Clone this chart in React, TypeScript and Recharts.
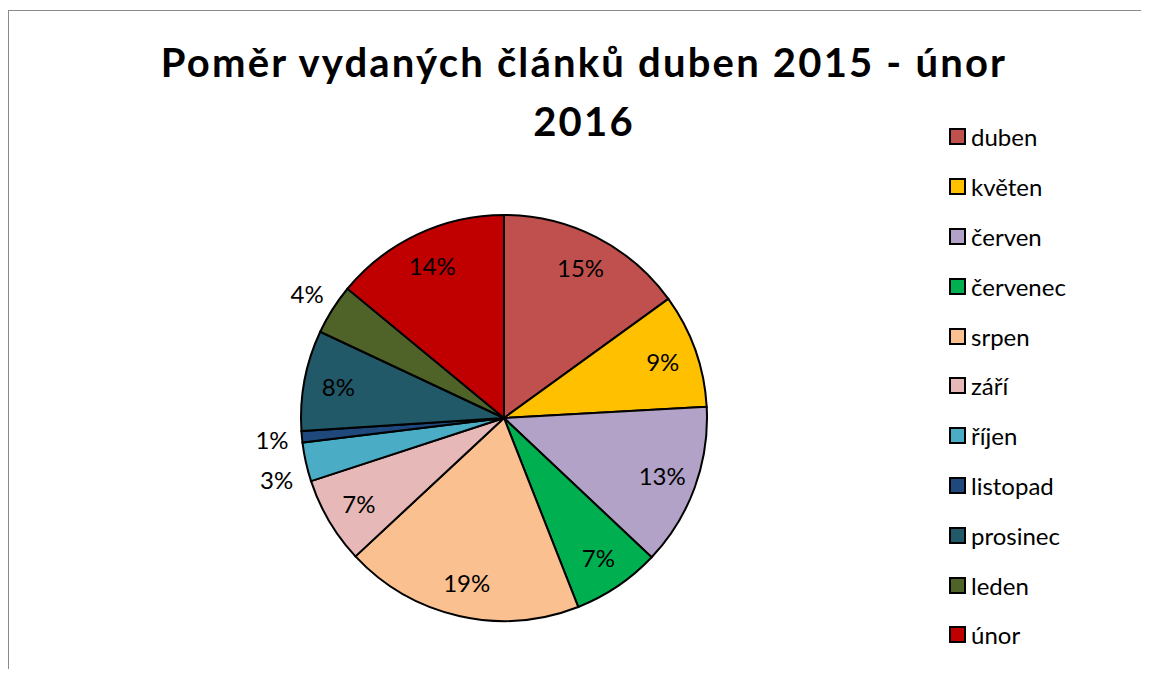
import React from 'react';
import { PieChart, Pie, Cell, Legend } from 'recharts';

const months = ['duben', 'květen', 'červen', 'červenec', 'srpen', 'září', 'říjen', 'listopad', 'prosinec', 'leden', 'únor'];
const shares = [15.0, 9.1, 12.9, 7.0, 19.0, 6.9, 3.1, 0.9, 8.0, 4.0, 14.0];
const colors = ['#C0504D', '#FFC000', '#B2A2C7', '#00B050', '#FAC090', '#E6B9B8', '#4BACC6', '#1F497D', '#215968', '#4F6228', '#C00000'];
const titleLines = ['Poměr vydaných článků duben 2015 - únor', '2016'];

const data = months.map((m, i) => ({ name: m, value: shares[i] }));

const FONT = 'Lato, "Noto Sans", sans-serif';
const RAD = Math.PI / 180;

const labelPositions = (cx: number, cy: number, R: number) => {
  const total = shares.reduce((a, b) => a + b, 0);
  let acc = 0;
  const pos = shares.map((v) => {
    const frac = v / total;
    const mid = 90 - (acc + frac / 2) * 360;
    acc += frac;
    const outside = frac < 0.05;
    const r = outside ? R + 30 : R * 0.83;
    return { x: cx + r * Math.cos(mid * RAD), y: cy - r * Math.sin(mid * RAD), outside, frac };
  });
  for (let i = 0; i < pos.length - 1; i++) {
    const a = pos[i];
    const b = pos[i + 1];
    if (a.outside && b.outside && Math.abs(a.y - b.y) < 40) {
      if (a.y > b.y) a.y = b.y + 40; else b.y = a.y + 40;
    }
  }
  return pos;
};

const renderLabel = (p: any) => {
  const { cx, cy, outerRadius, index, percent } = p;
  const pos = labelPositions(cx, cy, outerRadius)[index];
  return (
    <text x={pos.x} y={pos.y} textAnchor="middle" dominantBaseline="central" fontSize={24} fontFamily={FONT} fill="#000">
      {Math.round(percent * 100)}%
    </text>
  );
};

const renderLegend = () => (
  <div style={{ fontFamily: FONT, fontSize: 24, color: '#000' }}>
    {months.map((m, i) => (
      <div key={m} style={{ height: 49.8, display: 'flex', alignItems: 'center' }}>
        <span style={{ display: 'inline-block', width: 13, height: 13, background: colors[i], border: '2px solid #000', marginRight: 5 }} />
        <span>{m}</span>
      </div>
    ))}
  </div>
);

export default function App() {
  return (
    <div style={{ position: 'relative', width: 1141, height: 661, overflow: 'hidden' }}>
      <div style={{ position: 'absolute', left: 0, top: 2, width: 1135, height: 1, background: '#8a8a8a' }} />
      <div style={{ position: 'absolute', left: 0, top: 2, width: 1, height: 659, background: '#8a8a8a' }} />
      <div style={{ position: 'absolute', left: 576, top: 25, transform: 'translateX(-50%)', whiteSpace: 'nowrap', textAlign: 'center', fontFamily: FONT, fontWeight: 700, fontSize: 40, letterSpacing: 2.2, lineHeight: '59px', color: '#000', zIndex: 2 }}>
        {titleLines.map((t) => (<div key={t}>{t}</div>))}
      </div>
      <div style={{ position: 'absolute', left: 1, top: 3 }}>
        <PieChart width={1139} height={656} margin={{ top: 0, right: 0, bottom: 0, left: 0 }} accessibilityLayer={false} style={{ outline: 'none' }}>
          <Pie
            data={data}
            dataKey="value"
            nameKey="name"
            cx={495}
            cy={407}
            outerRadius={203}
            startAngle={90}
            endAngle={-270}
            stroke="#000"
            strokeWidth={2}
            label={renderLabel}
            labelLine={false}
            isAnimationActive={false}
          >
            {data.map((d, i) => (<Cell key={d.name} fill={colors[i]} />))}
          </Pie>
          <Legend layout="vertical" verticalAlign="top" align="right" content={renderLegend} wrapperStyle={{ left: 940, top: 101 }} />
        </PieChart>
      </div>
    </div>
  );
}
